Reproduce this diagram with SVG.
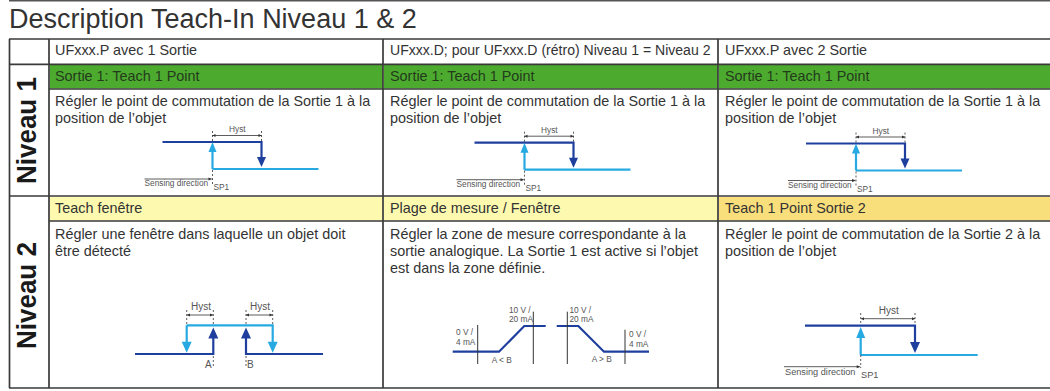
<svg xmlns="http://www.w3.org/2000/svg" width="1050" height="391" viewBox="0 0 1050 391">
<style>
text{font-family:"Liberation Sans",Arial,sans-serif;fill:#333}
.t{font-size:14.4px}
.d{font-size:27px;fill:#333}
.n{font-size:26px;font-weight:bold;fill:#1a1a1a}
.s{font-size:8.3px;fill:#555}
.m{font-size:10px;fill:#555}
.h{fill:#243a1c}
.b{fill:none;stroke:#1f3f9e;stroke-width:2.2}
.c{fill:none;stroke:#27aae1;stroke-width:2.2}
.g{fill:none;stroke:#333;stroke-width:.8}
.k{fill:none;stroke:#333;stroke-width:.8;stroke-dasharray:2 2}
.l{fill:none;stroke:#333;stroke-width:1}
.ln{stroke:#3a3a3a;stroke-width:1.7;fill:none}
.ab{fill:#1f3f9e}.ac{fill:#27aae1}
</style>
<defs>
<g id="hyst">
<path class="b" d="M-50 0H49V17"/>
<path class="c" d="M0 27V9M0 27H106"/>
<path class="ac" d="M0 0l-4 10h8z"/>
<path class="ab" d="M49 25l-4.500-10h9z"/>
<path class="k" d="M0-11V0M49-11V0M0 28V42"/>
<path class="g" d="M0-6.500H49"/>
<path d="M0-6.500l3-1.500v3zM49-6.500l-3-1.500v3z" fill="#333"/>
<text class="s" x="16.500" y="-10">Hyst</text>
<path class="g" d="M-68 37H-3"/>
<path d="M0 37l-4-1.500v3z" fill="#333"/>
<text class="s" x="-68" y="44">Sensing direction</text>
<text class="s" x="1" y="48">SP1</text>
</g>
</defs>
<g id="row-fills">
<rect x="50" y="65" width="333" height="23.500" fill="#4cab2f"/>
<rect x="384" y="65" width="334" height="23.500" fill="#4cab2f"/>
<rect x="719" y="65" width="331" height="23.500" fill="#4cab2f"/>
<rect x="50" y="197" width="333" height="23.500" fill="#fdfab0"/>
<rect x="384" y="197" width="334" height="23.500" fill="#fdfab0"/>
<rect x="719" y="197" width="331" height="23.500" fill="#f9de7c"/>
</g>
<g id="table-lines">
<path d="M9 .8H1050" stroke="#555" stroke-width="1.500"/>
<path class="ln" d="M9 39H1050M9 64.300H1050M49 89H1050M9 196H1050M49 221H1050M9 388H1050"/>
<path class="ln" d="M9.500 39V388M49 39V388M383 39V388M718 39V388"/>
</g>
<text class="d" id="title" x="9" y="28">Description Teach-In Niveau 1 &amp; 2</text>
<g id="head">
<text class="t" x="55" y="55">UFxxx.P avec 1 Sortie</text>
<text class="t" x="390" y="55" style="font-size:14.050px">UFxxx.D; pour UFxxx.D (rétro) Niveau 1 = Niveau 2</text>
<text class="t" x="725" y="55">UFxxx.P avec 2 Sortie</text>
</g>
<g id="row1-head">
<text class="t h" x="55" y="81">Sortie 1: Teach 1 Point</text>
<text class="t h" x="390" y="81">Sortie 1: Teach 1 Point</text>
<text class="t h" x="725" y="81">Sortie 1: Teach 1 Point</text>
</g>
<g id="row1-body">
<text class="t" x="55" y="106">Régler le point de commutation de la Sortie 1 à la</text>
<text class="t" x="55" y="123">position de l’objet</text>
<text class="t" x="390" y="106">Régler le point de commutation de la Sortie 1 à la</text>
<text class="t" x="390" y="123">position de l’objet</text>
<text class="t" x="725" y="106">Régler le point de commutation de la Sortie 1 à la</text>
<text class="t" x="725" y="123">position de l’objet</text>
<use href="#hyst" x="212.500" y="142"/>
<use href="#hyst" x="524.500" y="142.700"/>
<use href="#hyst" x="856" y="143.500"/>
</g>
<g id="labels">
<text class="n" transform="translate(36 184) rotate(-90) scale(1 1.080)">Niveau 1</text>
<text class="n" transform="translate(36 349) rotate(-90) scale(1 1.080)">Niveau 2</text>
</g>
<g id="row2-head">
<text class="t" x="55" y="213.300">Teach fenêtre</text>
<text class="t" x="390" y="213.300">Plage de mesure / Fenêtre</text>
<text class="t" x="725" y="213.300">Teach 1 Point Sortie 2</text>
</g>
<g id="row2-body">
<text class="t" x="55" y="239">Régler une fenêtre dans laquelle un objet doit</text>
<text class="t" x="55" y="256">être détecté</text>
<text class="t" x="390" y="239">Régler la zone de mesure correspondante à la</text>
<text class="t" x="390" y="256">sortie analogique. La Sortie 1 est active si l’objet</text>
<text class="t" x="390" y="273">est dans la zone définie.</text>
<text class="t" x="725" y="239">Régler le point de commutation de la Sortie 2 à la</text>
<text class="t" x="725" y="256">position de l’objet</text>
</g>
<g id="diagram-window">
<path class="b" d="M135 354H213.300V336M246 336V354H323"/>
<path class="c" d="M186.700 325.300H272.700V344M186.700 325.300V344"/>
<path class="ab" d="M213.300 327.500l-5 11h10zM246 327.500l-5 11h10z"/>
<path class="ac" d="M186.700 352.700l-5-11h10zM272.700 352.700l-5-11h10z"/>
<path class="k" d="M186.700 310V325M213.300 310V325M246 310V325M272.700 310V325M213.300 356V368M246 356V368"/>
<path class="g" d="M187 315H213M246 315H272.500"/>
<path d="M187 315l3-1.500v3zM213 315l-3-1.500v3zM246 315l3-1.500v3zM272.500 315l-3-1.500v3z" fill="#333"/>
<text class="m" x="191" y="310">Hyst</text>
<text class="m" x="250" y="310">Hyst</text>
<text class="m" x="205" y="368">A</text>
<text class="m" x="247" y="368">B</text>
</g>
<g id="diagram-analog">
<path class="b" d="M452.700 351.700H499L524.300 326H545.700M556.700 326H578.300L604 351.700H649"/>
<path class="l" d="M477.700 325V364M533.300 311.700V364M567.300 311.700V364M625 329.700V364"/>
<text class="s" x="456" y="335">0 V /</text>
<text class="s" x="456" y="345">4 mA</text>
<text class="s" x="509" y="312.700">10 V /</text>
<text class="s" x="509" y="322.300">20 mA</text>
<text class="s" x="569.500" y="312.700">10 V /</text>
<text class="s" x="569.500" y="322.300">20 mA</text>
<text class="s" x="629" y="337">0 V /</text>
<text class="s" x="629" y="347">4 mA</text>
<text class="s" x="491.700" y="363">A &lt; B</text>
<text class="s" x="591.700" y="361.700">A &gt; B</text>
</g>
<g id="diagram-sortie2">
<path class="b" d="M805 325.700H915V345"/>
<path class="c" d="M860.700 355V336M860.700 355H977.700"/>
<path class="ac" d="M860.700 327l-4.500 11h9z"/>
<path class="ab" d="M915 353l-5-11h10z"/>
<path class="k" d="M860.700 313V325M915 313V325M860.700 355V368"/>
<path class="g" d="M861 318.700H915M784 366.700H857"/>
<path d="M861 318.700l3-1.500v3zM915 318.700l-3-1.500v3zM860.700 366.700l-4-1.500v3z" fill="#333"/>
<text class="m" x="878.700" y="314">Hyst</text>
<text class="s" x="785" y="375" style="font-size:9.200px">Sensing direction</text>
<text class="s" x="861" y="378" style="font-size:9.200px">SP1</text>
</g>
</svg>
